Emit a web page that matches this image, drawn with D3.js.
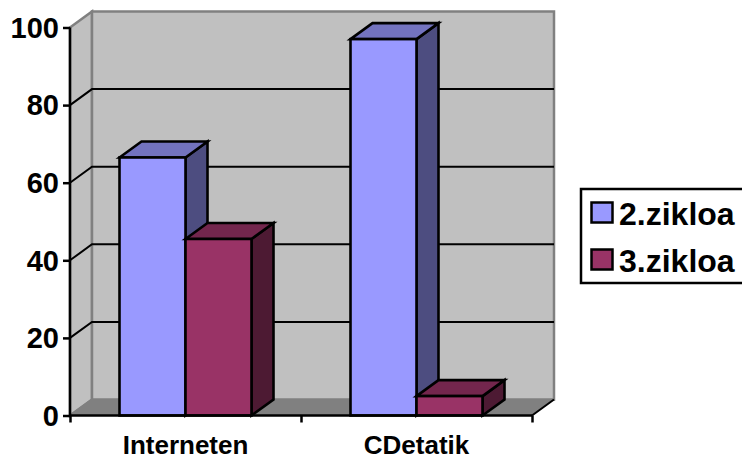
<!DOCTYPE html>
<html><head><meta charset="utf-8">
<script src="https://cdn.jsdelivr.net/npm/d3@7/dist/d3.min.js"></script>
<style>html,body{margin:0;padding:0;background:#fff;overflow:hidden}svg{display:block}text{font-family:"Liberation Sans",Arial,sans-serif;font-weight:bold;fill:#000}</style>
</head><body><svg id="c" width="742" height="457"></svg>
<script>
const categories = ["Interneten", "CDetatik"];
const seriesNames = ["2.zikloa", "3.zikloa"];
const series2 = [66.5, 97];
const series3 = [45.5, 5];
const tickValues = [0, 20, 40, 60, 80, 100];

const colors = {
  "2.zikloa": {front: "#9999ff", top: "#7373bf", side: "#4d4d80"},
  "3.zikloa": {front: "#993366", top: "#73264d", side: "#4d1a33"}
};
const values = {"2.zikloa": series2, "3.zikloa": series3};

const dx = 22, dy = -16;
const svg = d3.select("#c");
const y = d3.scaleLinear().domain([0, 100]).range([415.5, 27.5]);
const x0 = d3.scaleBand().domain(categories).range([70, 532]).paddingInner(3 / 7).paddingOuter(3 / 14);
const x1 = d3.scaleBand().domain(seriesNames).range([0, x0.bandwidth()]);
const pts = a => a.map(p => p.join(",")).join(" ");
const xL = x0.range()[0], xR = x0.range()[1], y0 = y(0), yT = y(100);

// walls and floor
svg.append("polygon").attr("points", pts([[xL, yT], [xL + dx, yT + dy], [xL + dx, y0 + dy], [xL, y0]]))
  .attr("fill", "#c0c0c0").attr("stroke", "#808080").attr("stroke-width", 2.5);
svg.append("rect").attr("x", xL + dx).attr("y", yT + dy).attr("width", xR - xL).attr("height", y0 - yT)
  .attr("fill", "#c0c0c0").attr("stroke", "#808080").attr("stroke-width", 2.5);
svg.append("polygon").attr("points", pts([[xL, y0], [xL + dx, y0 + dy], [xR + dx, y0 + dy], [xR, y0]]))
  .attr("fill", "#808080").attr("stroke", "#808080");

// gridlines
tickValues.filter(t => t > 0 && t < 100).forEach(t => {
  svg.append("polyline").attr("points", pts([[xL, y(t)], [xL + dx, y(t) + dy], [xR + dx, y(t) + dy]]))
    .attr("fill", "none").attr("stroke", "#000").attr("stroke-width", 2);
});
svg.append("line").attr("x1", xR).attr("y1", y0).attr("x2", xR + dx).attr("y2", y0 + dy).attr("stroke", "#000").attr("stroke-width", 2);
svg.append("line").attr("x1", xL).attr("y1", y0).attr("x2", xL + dx).attr("y2", y0 + dy).attr("stroke", "#808080").attr("stroke-width", 2);

// bars
categories.forEach((c, i) => {
  seriesNames.forEach(s => {
    const v = values[s][i], a = x0(c) + x1(s), b = a + x1.bandwidth(), t = y(v);
    const g = svg.append("g").attr("stroke", "#000").attr("stroke-width", 2.6).attr("stroke-linejoin", "miter");
    g.append("polygon").attr("points", pts([[b, t], [b + dx, t + dy], [b + dx, y0 + dy], [b, y0]])).attr("fill", colors[s].side);
    g.append("polygon").attr("points", pts([[a, t], [a + dx, t + dy], [b + dx, t + dy], [b, t]])).attr("fill", colors[s].top);
    g.append("rect").attr("x", a).attr("y", t).attr("width", b - a).attr("height", y0 - t).attr("fill", colors[s].front);
  });
});

// axes
const axisY = d3.axisLeft(y).tickValues(tickValues).tickSize(7).tickPadding(4);
const gy = svg.append("g").attr("transform", `translate(${xL},0)`).call(axisY);
gy.selectAll("path,line").attr("stroke", "#000").attr("stroke-width", 2.5);
gy.select("path").attr("d", `M0,${yT}V${y0}`);
gy.selectAll("text").attr("font-size", 29).attr("font-family", '"Liberation Sans"').attr("font-weight", "bold").attr("dy", "0.34em");

const axisX = d3.axisBottom(d3.scaleLinear().domain([0, 2]).range([xL, xR])).tickValues([0, 1, 2]).tickSize(7).tickFormat("");
const gx = svg.append("g").attr("transform", `translate(0,${y0})`).call(axisX);
gx.selectAll("path,line").attr("stroke", "#000").attr("stroke-width", 2.5);
gx.select("path").attr("d", `M${xL},0H${xR}`);
svg.selectAll(".cat").data(categories).enter().append("text").attr("class", "cat")
  .attr("x", d => x0(d) + x0.bandwidth() / 2).attr("y", 454).attr("text-anchor", "middle").attr("font-size", 26).text(d => d);

// legend
const lg = svg.append("g");
lg.append("rect").attr("x", 581).attr("y", 189).attr("width", 170).attr("height", 94)
  .attr("fill", "#fff").attr("stroke", "#000").attr("stroke-width", 2.5);
const legendY = d3.scalePoint().domain(seriesNames).range([212.5, 259.5]);
seriesNames.forEach(s => {
  const cy = legendY(s);
  lg.append("rect").attr("x", 591.5).attr("y", cy - 10).attr("width", 21).attr("height", 20)
    .attr("fill", colors[s].front).attr("stroke", "#000").attr("stroke-width", 2.5);
  lg.append("text").attr("x", 619).attr("y", cy + 12).attr("font-size", 32).text(s);
});
</script></body></html>
